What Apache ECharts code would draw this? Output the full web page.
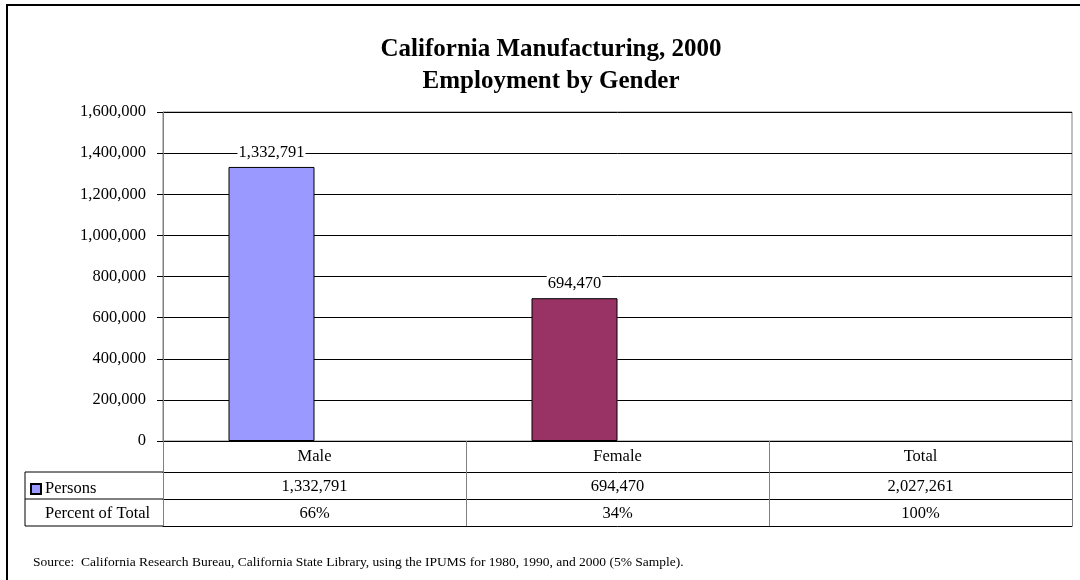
<!DOCTYPE html>
<html>
<head>
<meta charset="utf-8">
<script src="https://cdn.jsdelivr.net/npm/echarts@6/dist/echarts.min.js"></script>
<style>
html,body{margin:0;padding:0;background:#fff;}
#c{width:1080px;height:580px;}
</style>
</head>
<body>
<div id="c"></div>
<script>
// ---- data ----
const categories = ['Male', 'Female', 'Total'];
const persons = [1332791, 694470];          // plotted bars (Male, Female)
const personsTotal = 2027261;               // shown in data table only
const percentOfTotal = [66, 34, 100];       // second table row
const titleLines = ['California Manufacturing, 2000', 'Employment by Gender'];
const sourceText = 'Source:  California Research Bureau, California State Library, using the IPUMS for 1980, 1990, and 2000 (5% Sample).';

const fmt = v => v.toLocaleString('en-US');
const personsRow = persons.concat([personsTotal]).map(fmt);
const percentRow = percentOfTotal.map(v => v + '%');

const FONT = '"Liberation Serif", "Times New Roman", serif';
const FS = 16.5;

const chart = echarts.init(document.getElementById('c'), null, {renderer: 'canvas'});

const rowAxis = (data, offset, len, showLabels) => ({
  type: 'category', gridIndex: 0, position: 'bottom', offset: offset,
  data: data,
  axisLine: {show: true, lineStyle: {color: '#000', width: 1}},
  axisTick: {show: len > 0, interval: 0, length: len, lineStyle: {color: '#808080'}},
  axisLabel: {show: showLabels, interval: 0, margin: 6, color: '#000', fontFamily: FONT, fontSize: FS},
  splitLine: {show: false}
});

const option = {
  backgroundColor: '#fff',
  animation: false,
  title: {
    text: titleLines.join('\n'),
    left: 546, top: 29, textAlign: 'center',
    textStyle: {fontFamily: FONT, fontSize: 25, fontWeight: 'bold', color: '#000', lineHeight: 32}
  },
  legend: {
    data: ['Persons'], left: 25, top: 475, orient: 'horizontal',
    itemWidth: 10, itemHeight: 10, icon: 'rect', itemGap: 0,
    textStyle: {fontFamily: FONT, fontSize: FS, color: '#000', lineHeight: 18, padding: [0, 0, 0, -1]},
    selectedMode: false
  },
  grid: {
    left: 163, top: 112, right: 8, bottom: 139,
    show: true, borderColor: '#808080', borderWidth: 1, backgroundColor: '#fff'
  },
  xAxis: [
    {
      type: 'category', gridIndex: 0, position: 'bottom', data: categories,
      axisLine: {show: true, lineStyle: {color: '#000', width: 1}},
      axisTick: {show: true, interval: 0, length: 31, lineStyle: {color: '#808080'}},
      axisLabel: {interval: 0, margin: 7, color: '#000', fontFamily: FONT, fontSize: FS},
      splitLine: {show: false}
    },
    rowAxis(personsRow, 31, 27, true),
    rowAxis(percentRow, 58, 27, true),
    rowAxis(categories, 85, 0, false)
  ],
  yAxis: {
    type: 'value', min: 0, max: 1600000, interval: 200000,
    axisLine: {show: true, lineStyle: {color: '#808080'}},
    axisTick: {show: true, length: 6, lineStyle: {color: '#000'}},
    axisLabel: {margin: 17, color: '#000', fontFamily: FONT, fontSize: FS, formatter: v => fmt(v)},
    splitLine: {show: true, lineStyle: {color: '#000', width: 1}}
  },
  series: [
    {
      name: 'Persons', type: 'bar', xAxisIndex: 0, barWidth: 86, barGap: '0%',
      itemStyle: {color: '#9999FF', borderColor: '#000', borderWidth: 1},
      data: persons.map((v, i) => i === 1 ? {value: v, itemStyle: {color: '#993366'}} : v),
      label: {
        show: true, position: 'top', distance: 6,
        formatter: p => fmt(p.value),
        color: '#000', fontFamily: FONT, fontSize: FS, backgroundColor: '#fff', padding: [0, 1]
      }
    },
    {
      name: 'Percent of Total', type: 'bar', xAxisIndex: 0, barWidth: 86, barGap: '0%', silent: true,
      itemStyle: {color: 'rgba(0,0,0,0)'},
      data: percentOfTotal
    }
  ],
  graphic: [
    {type: 'rect', shape: {x: 7, y: 5, width: 1100, height: 600}, style: {fill: 'none', stroke: '#000', lineWidth: 2}, z: 100},
    {type: 'line', shape: {x1: 25, y1: 472, x2: 163, y2: 472}, style: {stroke: '#000', lineWidth: 1}},
    {type: 'line', shape: {x1: 25, y1: 499, x2: 163, y2: 499}, style: {stroke: '#000', lineWidth: 1}},
    {type: 'line', shape: {x1: 25, y1: 526, x2: 163, y2: 526}, style: {stroke: '#000', lineWidth: 1}},
    {type: 'line', shape: {x1: 25, y1: 472, x2: 25, y2: 526}, style: {stroke: '#000', lineWidth: 1}},
    {type: 'text', left: 45, top: 505, style: {text: 'Percent of Total', font: FS + 'px ' + FONT, fill: '#000'}},
    {type: 'text', left: 33, top: 555, style: {text: sourceText, font: '13.5px ' + FONT, fill: '#000'}}
  ]
};
chart.setOption(option);
</script>
</body>
</html>
